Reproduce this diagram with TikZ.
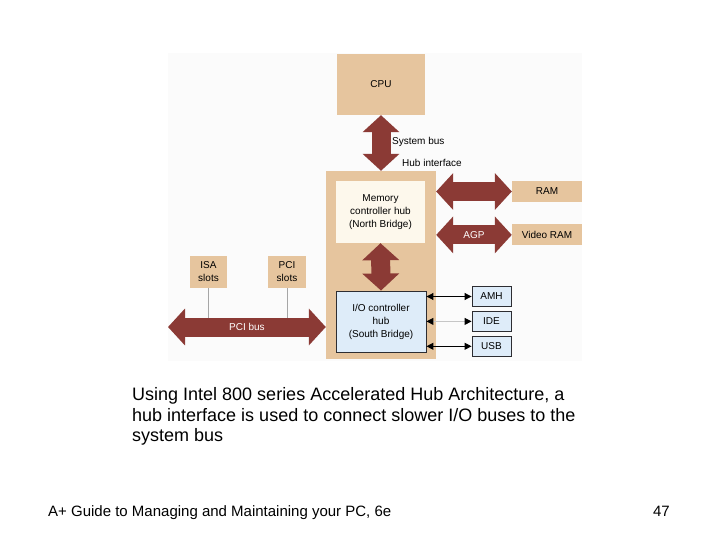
\documentclass[tikz,border=0pt]{standalone}
\usepackage{fontspec}
\setmainfont{Liberation Sans}
\usetikzlibrary{arrows.meta, positioning}

\definecolor{hubtan}{RGB}{230,197,158}
\definecolor{busred}{RGB}{139,58,53}
\definecolor{mchcream}{RGB}{253,248,236}
\definecolor{ichblue}{RGB}{222,236,249}
\definecolor{boxline}{RGB}{45,45,50}
\definecolor{panel}{RGB}{251,251,251}

\begin{document}
\begin{tikzpicture}[
    x=1pt, y=-1pt,
    part/.style={rectangle, fill=hubtan, inner sep=0pt, align=center, font=\fontsize{10}{13}\selectfont},
    port/.style={rectangle, draw=boxline, line width=0.9pt, fill=ichblue, inner sep=0pt, minimum width=39pt, minimum height=20pt, font=\fontsize{10}{13}\selectfont},
    bus/.style={{Triangle[length=17pt, width=36pt]}-{Triangle[length=17pt, width=36pt]}, line width=19pt, draw=busred},
    link/.style={{Triangle[length=7pt, width=7pt, color=black]}-{Triangle[length=7pt, width=7pt, color=black]}, line width=1pt},
    tap/.style={draw=gray!70, line width=1pt},
    buslabel/.style={text=white, font=\fontsize{10}{13}\selectfont},
    note/.style={font=\fontsize{10}{13}\selectfont, anchor=west, inner sep=0pt}
]
\useasboundingbox (0,0) rectangle (720,540);
\fill[panel] (168,53) rectangle (582,361);

% chipset
\node[part, minimum width=88pt, minimum height=61pt] (cpu) at (381,84.5) {CPU};
\node[part, minimum width=110pt, minimum height=188pt] (hub) at (381,265) {};
\node[part, fill=mchcream, minimum width=89pt, minimum height=62pt] (mch) at (380.5,212) {Memory\\controller hub\\(North Bridge)};
\node[part, fill=ichblue, draw=boxline, line width=0.9pt, minimum width=90pt, minimum height=61pt] (ich) at (381,321.5) {I/O controller\\hub\\(South Bridge)};

% memory side
\node[part, minimum width=70pt, minimum height=21pt] (ram) at (547,191.5) {RAM};
\node[part, minimum width=70pt, minimum height=21pt, below=22pt of ram] (vram) {Video RAM};

% I/O ports
\node[port] (amh) at (491.5,296.5) {AMH};
\node[port, below=4pt of amh] (ide) {IDE};
\node[port, below=4pt of ide] (usb) {USB};

% expansion slots
\node[part, minimum width=37pt, minimum height=32pt] (isa) at (208.5,272) {ISA\\slots};
\node[part, minimum width=38pt, minimum height=32pt] (pcislot) at (287,272) {PCI\\slots};
\coordinate (pcileft) at (168,327);

\draw[tap] (isa.south) -- (isa.south |- pcileft);
\draw[tap] (pcislot.south) -- (pcislot.south |- pcileft);

\draw[bus] (cpu.south) -- (hub.north);
\node[note] (sysbus) at (392,142) {System bus};
\node[note] (hubif) at (402,163) {Hub interface};
\draw[bus] (hub.east |- ram.west) -- (ram.west);
\draw[bus] (hub.east |- vram.west) -- node[buslabel] {AGP} (vram.west);
\draw[bus] (mch.south) -- (ich.north);
\draw[bus] (pcileft) -- node[buslabel] {PCI bus} (pcileft -| hub.west);

\draw[link] (ich.east |- amh.west) -- (amh.west);
\draw[link, draw=gray!45] (ich.east |- ide.west) -- (ide.west);
\draw[link] (ich.east |- usb.west) -- (usb.west);

% caption and footer
\node[anchor=north west, align=left, inner sep=0pt, font=\fontsize{18}{20.5}\selectfont] (caption) at (132,387.5)
    {Using Intel 800 series Accelerated Hub Architecture, a\\hub interface is used to connect slower I/O buses to the\\system bus};
\node[anchor=base west, inner sep=0pt, font=\fontsize{15}{18}\selectfont] (book) at (48,516) {A+ Guide to Managing and Maintaining your PC, 6e};
\node[anchor=base east, inner sep=0pt, font=\fontsize{15}{18}\selectfont] (page) at (670,516) {47};
\end{tikzpicture}
\end{document}
